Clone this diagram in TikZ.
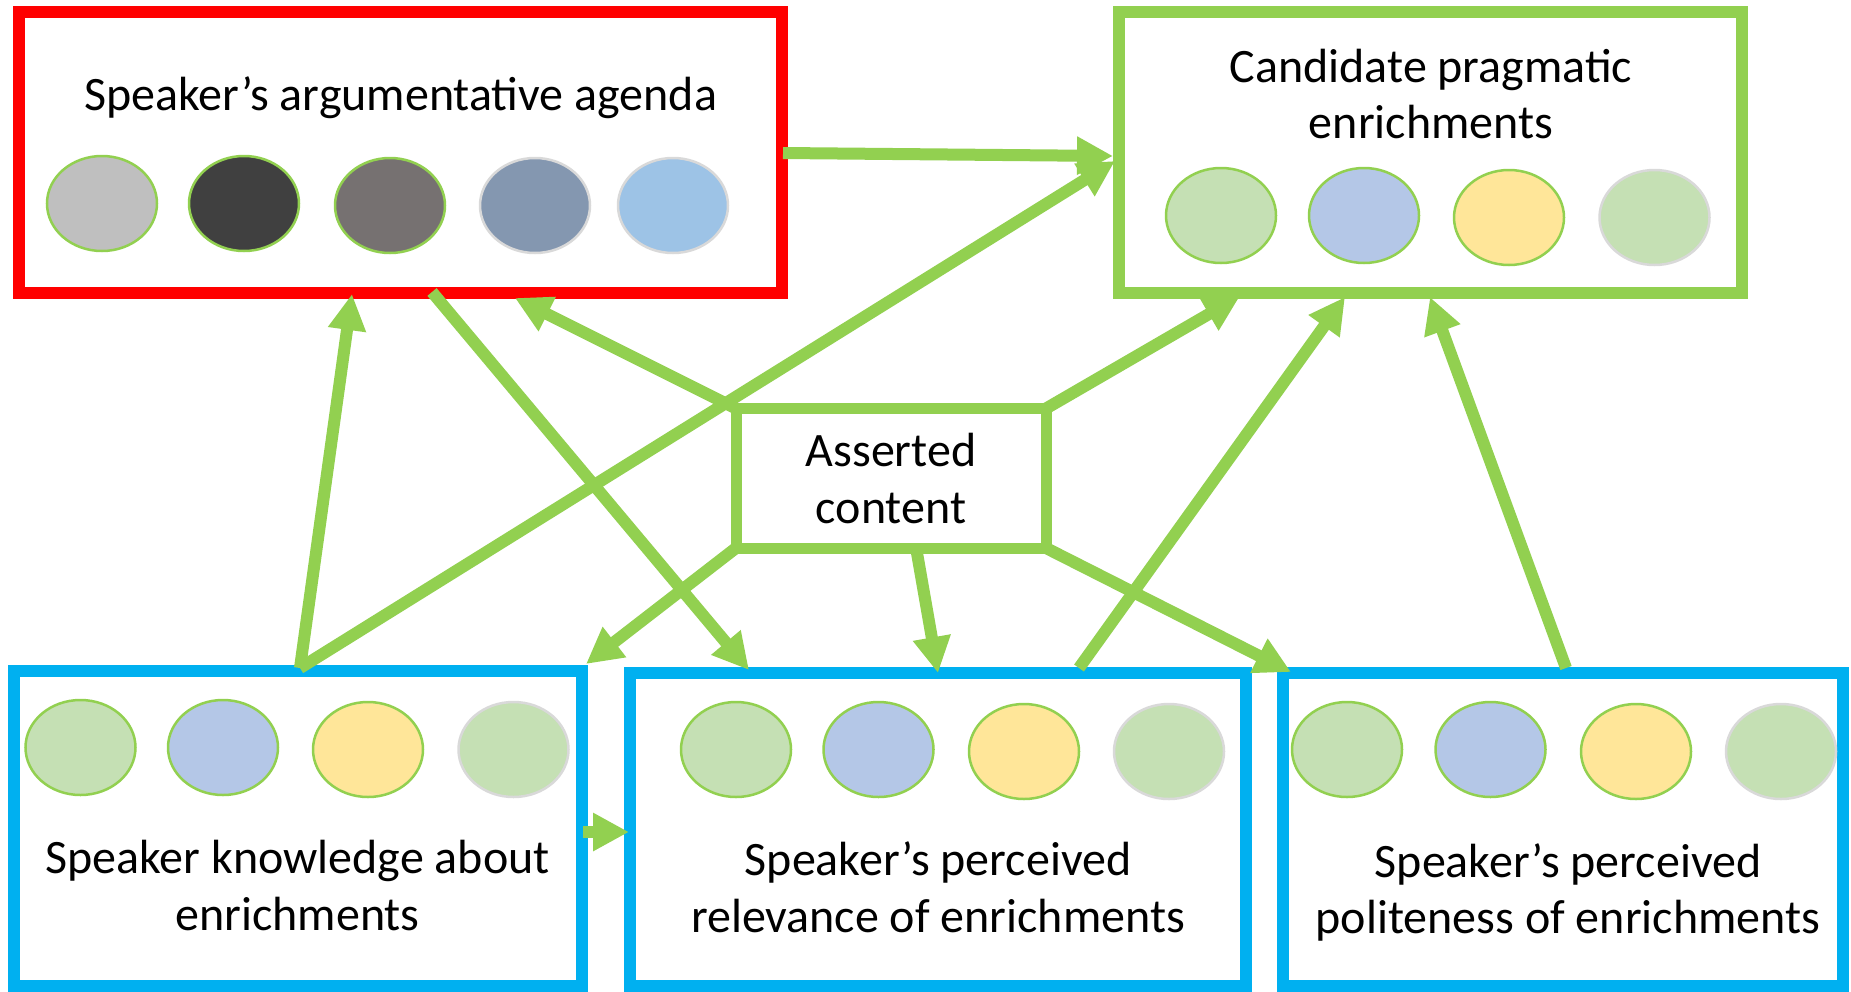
\documentclass[tikz,border=0pt]{standalone}
\usepackage{fontspec}
\setmainfont{Carlito}
\usetikzlibrary{arrows.meta,shapes.geometric}
\definecolor{gr}{HTML}{92D050}
\definecolor{bl}{HTML}{00B0F0}
\definecolor{rd}{HTML}{FF0000}
\definecolor{olgray}{HTML}{D9D9D9}
\definecolor{fA}{HTML}{BFBFBF}
\definecolor{fB}{HTML}{404040}
\definecolor{fC}{HTML}{767171}
\definecolor{fD}{HTML}{8497B0}
\definecolor{fE}{HTML}{9DC3E6}
\definecolor{eG}{HTML}{C5E0B4}
\definecolor{eB}{HTML}{B4C7E7}
\definecolor{eY}{HTML}{FFE699}
\tikzset{
  boxstyle/.style={draw=#1, line width=12pt, fill=white, rectangle, inner sep=0pt, outer sep=0pt},
  blob/.style={ellipse, minimum width=110pt, minimum height=95pt, line width=2.5pt, inner sep=0pt, fill=#1},
  gline/.style={draw=gr},
  wline/.style={draw=olgray},
  lbl/.style={anchor=base, font=\fontsize{48}{58}\selectfont, inner sep=0pt},
  conn/.style={draw=gr, line width=12pt, -{Triangle[length=36pt,width=36pt]}}
}
\begin{document}
\begin{tikzpicture}[x=1pt,y=-1pt]
\useasboundingbox (0,0) rectangle (1851,991);
\fill[white] (0,0) rectangle (1851,991);
% boxes
\node[boxstyle=rd, minimum width=763pt, minimum height=280.5pt] (agenda) at (400.5,152.25) {};
\node[boxstyle=gr, minimum width=623pt, minimum height=281pt] (cand) at (1430.5,152.5) {};
\node[boxstyle=gr, line width=11pt, minimum width=310pt, minimum height=139.5pt] (assert) at (891,478.25) {};
\node[boxstyle=bl, minimum width=567.5pt, minimum height=315pt] (know) at (297.75,828.5) {};
\node[boxstyle=bl, minimum width=616pt, minimum height=313pt] (relev) at (938,829.5) {};
\node[boxstyle=bl, minimum width=560pt, minimum height=313pt] (polite) at (1563,829.5) {};
% ellipses: agenda
\node[blob=fA, gline] (ag1) at (102,203.5) {};
\node[blob=fB, gline] (ag2) at (244,203.5) {};
\node[blob=fC, gline] (ag3) at (390,205.5) {};
\node[blob=fD, wline] (ag4) at (535,205.5) {};
\node[blob=fE, wline] (ag5) at (673,205.5) {};
% candidate
\node[blob=eG, gline] (ca1) at (1221,215.5) {};
\node[blob=eB, gline] (ca2) at (1364,215.5) {};
\node[blob=eY, gline] (ca3) at (1509,217.5) {};
\node[blob=eG, wline] (ca4) at (1654.5,217.5) {};
% knowledge
\node[blob=eG, gline] (kn1) at (80.5,747.5) {};
\node[blob=eB, gline] (kn2) at (223,747.5) {};
\node[blob=eY, gline] (kn3) at (368,749.5) {};
\node[blob=eG, wline] (kn4) at (513.5,749.5) {};
% relevance
\node[blob=eG, gline] (re1) at (736,749.5) {};
\node[blob=eB, gline] (re2) at (878.5,749.5) {};
\node[blob=eY, gline] (re3) at (1024,751.5) {};
\node[blob=eG, wline] (re4) at (1169,751.5) {};
% politeness
\node[blob=eG, gline] (po1) at (1347,749.5) {};
\node[blob=eB, gline] (po2) at (1490.5,749.5) {};
\node[blob=eY, gline] (po3) at (1636,751.5) {};
\node[blob=eG, wline] (po4) at (1781,751.5) {};
% texts
\node[lbl] (tag) at (400.5,110) {Speaker’s argumentative agenda};
\node[lbl] (tca1) at (1431,82) {Candidate pragmatic};
\node[lbl] (tca2) at (1431,138) {enrichments};
\node[lbl] (tas1) at (891,466) {Asserted};
\node[lbl] (tas2) at (891,523) {content};
\node[lbl] (tkn1) at (297.5,873) {Speaker knowledge about};
\node[lbl] (tkn2) at (297.5,930) {enrichments};
\node[lbl] (tre1) at (938,875) {Speaker’s perceived};
\node[lbl] (tre2) at (938,932) {relevance of enrichments};
\node[lbl] (tpo1) at (1568,877) {Speaker’s perceived};
\node[lbl] (tpo2) at (1568,933) {politeness of enrichments};
% attachment points
\coordinate (agR) at (783,153);
\coordinate (caL1) at (1113,156);
\coordinate (caL2) at (1115,161);
\coordinate (knT) at (300,668);
\coordinate (agB1) at (352,294);
\coordinate (agB2) at (432,292);
\coordinate (agB3) at (515,298);
\coordinate (reT1) at (749,670);
\coordinate (reT2) at (938,673);
\coordinate (reT3) at (1079,668);
\coordinate (caB1) at (1240,296);
\coordinate (caB2) at (1345,297);
\coordinate (caB3) at (1430,297);
\coordinate (poT1) at (1291,672);
\coordinate (poT2) at (1566,668);
\coordinate (knTR) at (586,664);
\coordinate (knR) at (583,832);
\coordinate (reL) at (629,832);
\coordinate (asB) at (917,553);
% connectors
\draw[conn] (agR) -- (caL1);
\draw[conn] (knT) -- (caL2);
\draw[conn] (knT) -- (agB1);
\draw[conn] (agB2) -- (reT1);
\draw[conn] (assert.north west) -- (agB3);
\draw[conn] (assert.north east) -- (caB1);
\draw[conn] (reT3) -- (caB2);
\draw[conn] (poT2) -- (caB3);
\draw[conn] (asB) -- (reT2);
\draw[conn] (assert.south west) -- (knTR);
\draw[conn] (assert.south east) -- (poT1);
\draw[conn] (knR) -- (reL);
\end{tikzpicture}
\end{document}
